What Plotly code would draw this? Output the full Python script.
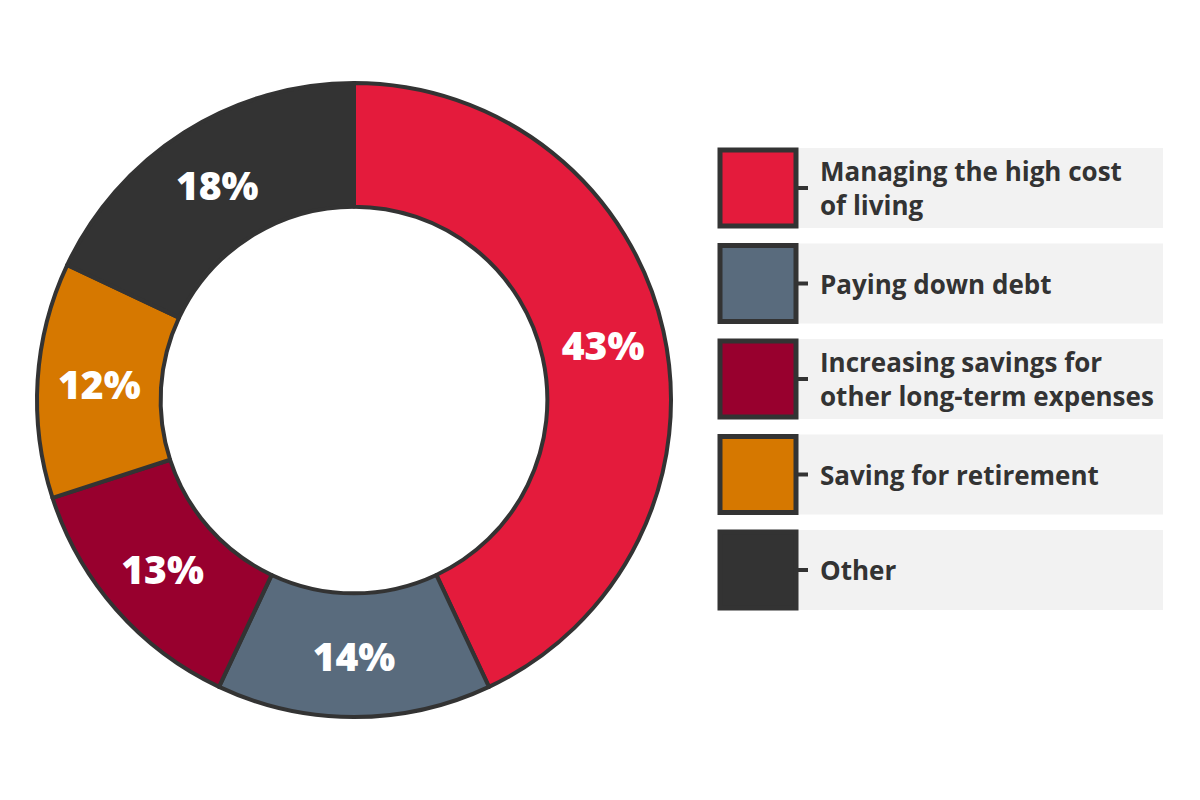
#---------------------------------------------------------------------
# Donut chart - financial priorities
#---------------------------------------------------------------------

import plotly.graph_objects as go

#---------------------------------------------------------------------
# Data
#---------------------------------------------------------------------

categories = [
    'Managing the high cost<br>of living',
    'Paying down debt',
    'Increasing savings for<br>other long-term expenses',
    'Saving for retirement',
    'Other',
]
shares = [43, 14, 13, 12, 18]
colors = ['#E41B3C', '#596B7D', '#98002E', '#D67800', '#333333']

#---------------------------------------------------------------------
# Figure
#---------------------------------------------------------------------

W, H = 1200, 800
OFF = 8  # page body margin


def px(x):
    return (x - OFF) / W


def py(y):
    return 1 - (y - OFF) / H


fig = go.Figure()

fig.add_trace(go.Pie(
    labels=categories,
    values=shares,
    text=[f'{v}%' for v in shares],
    textinfo='text',
    textposition='inside',
    insidetextorientation='horizontal',
    textfont=dict(family='Open Sans', size=39, color='white', weight=800),
    marker=dict(colors=colors, line=dict(color='#333333', width=4)),
    hole=0.61,
    sort=False,
    direction='clockwise',
    rotation=0,
    domain=dict(x=[px(36), px(672)], y=[py(717), py(83)]),
    showlegend=False,
    hoverinfo='label+percent',
))

# Legend built by hand: coloured square, connector tick, grey box with text
shapes = []
annotations = []
row_top = 148
row_step = 95.5
box_h = 80
for i, (name, col) in enumerate(zip(categories, colors)):
    y0 = row_top + i * row_step
    y1 = y0 + box_h
    ym = (y0 + y1) / 2
    shapes.append(dict(type='rect', xref='paper', yref='paper',
                       x0=px(797), x1=px(1163), y0=py(y1), y1=py(y0),
                       fillcolor='#F2F2F2', line=dict(width=0), layer='below'))
    shapes.append(dict(type='rect', xref='paper', yref='paper',
                       x0=px(720), x1=px(796), y0=py(y1 - 2), y1=py(y0 + 2),
                       fillcolor=col, line=dict(color='#333333', width=5)))
    shapes.append(dict(type='line', xref='paper', yref='paper',
                       x0=px(797), x1=px(808), y0=py(ym), y1=py(ym),
                       line=dict(color='#333333', width=4)))
    annotations.append(dict(xref='paper', yref='paper',
                            x=px(818), y=py(ym),
                            xanchor='left', yanchor='middle',
                            text=name, showarrow=False, align='left',
                            font=dict(family='Open Sans', size=26,
                                      color='#333333', weight=700)))

fig.update_layout(
    width=W,
    height=H,
    margin=dict(l=0, r=0, t=0, b=0),
    paper_bgcolor='white',
    plot_bgcolor='white',
    shapes=shapes,
    annotations=annotations,
)

fig.write_html('out.html')
